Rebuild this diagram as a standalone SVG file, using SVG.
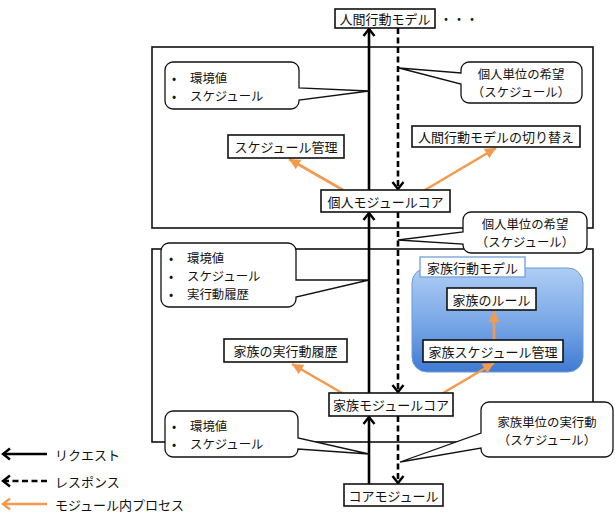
<svg xmlns="http://www.w3.org/2000/svg" width="615" height="512" viewBox="0 0 615 512">
<defs>
<style>
text{font-family:"Noto Sans CJK JP","Noto Sans",sans-serif;font-size:13px;fill:#111;}
.c{text-anchor:middle;dominant-baseline:central;}
.l{dominant-baseline:central;}
.m{font-size:12.4px;}
.box{fill:#fff;stroke:#111;stroke-width:1.6;}
.frame{fill:none;stroke:#111;stroke-width:1.6;}
.callout{fill:#fff;stroke:#111;stroke-width:1.3;}
.req{fill:none;stroke:#000;stroke-width:2.6;marker-end:url(#chev);}
.res{fill:none;stroke:#000;stroke-width:2.6;stroke-dasharray:6,3.5;marker-end:url(#chev);}
.proc{fill:none;stroke:#f39a4f;stroke-width:2.6;marker-end:url(#tri);}
</style>
<marker id="chev" markerUnits="userSpaceOnUse" markerWidth="12" markerHeight="14" viewBox="-9 -7 12 14" refX="0" refY="0" orient="auto">
<path d="M-7,-5.5 L0,0 L-7,5.5" fill="none" stroke="#000" stroke-width="2.4"/>
</marker>
<marker id="chev2" markerUnits="userSpaceOnUse" markerWidth="12" markerHeight="14" viewBox="-9 -7 12 14" refX="0" refY="0" orient="auto">
<path d="M-7,-5.5 L0,0 L-7,5.5" fill="none" stroke="#f39a4f" stroke-width="2.4"/>
</marker>
<marker id="tri" markerUnits="userSpaceOnUse" markerWidth="14" markerHeight="14" viewBox="-12 -7 14 14" refX="0" refY="0" orient="auto">
<path d="M-11,-5.5 L0,0 L-11,5.5 Z" fill="#f39a4f"/>
</marker>
<linearGradient id="blue" x1="0" y1="0" x2="0" y2="1">
<stop offset="0" stop-color="#aecdf4"/>
<stop offset="0.55" stop-color="#77a6e6"/>
<stop offset="1" stop-color="#3f7bd3"/>
</linearGradient>
</defs>
<rect width="615" height="512" fill="#fff"/>

<g id="personal-frame"><rect class="frame" x="152" y="47" width="441" height="181"/></g>
<g id="family-frame"><rect class="frame" x="152" y="249" width="441" height="193"/></g>

<g id="family-model">
<rect x="412" y="268" width="171" height="104" rx="15" fill="url(#blue)" stroke="#6d9ad6" stroke-width="1"/>
<rect x="420" y="257" width="105" height="20" fill="#fff" stroke="#7aa6dc" stroke-width="1.4"/>
<text class="c" x="472.5" y="267.5">家族行動モデル</text>
</g>

<g id="connectors">
<line class="req" x1="369" y1="484" x2="369" y2="417"/>
<line class="req" x1="369" y1="393" x2="369" y2="213"/>
<line class="req" x1="369" y1="190" x2="369" y2="29"/>
<line class="res" x1="398" y1="28" x2="398" y2="189"/>
<line class="res" x1="398" y1="212" x2="398" y2="392"/>
<line class="res" x1="398" y1="416" x2="398" y2="483"/>
<line class="proc" x1="343" y1="190" x2="289" y2="159"/>
<line class="proc" x1="425" y1="190" x2="496" y2="148"/>
<line class="proc" x1="342" y1="393" x2="292" y2="364"/>
<line class="proc" x1="443" y1="393" x2="494" y2="363"/>
<line class="proc" x1="494" y1="340" x2="494" y2="311"/>
</g>

<g id="top-model"><rect class="box" x="335" y="9" width="100" height="19"/><text class="c" x="385" y="18.5">人間行動モデル</text></g>
<g id="ellipsis"><text class="c" x="459" y="18.5">・・・</text></g>

<g id="callout-personal-input">
<path class="callout" d="M173,62 H291 A8,8 0 0 1 299,70 V88 L369,91 L299,100 V101 A8,8 0 0 1 291,109 H173 A8,8 0 0 1 165,101 V70 A8,8 0 0 1 173,62 Z"/>
<text class="l m"><tspan x="172" y="78">•</tspan><tspan x="190" y="78">環境値</tspan><tspan x="172" y="96">•</tspan><tspan x="190" y="96">スケジュール</tspan></text>
</g>

<g id="callout-personal-wish">
<path class="callout" d="M469,62 H574 A8,8 0 0 1 582,70 V95 A8,8 0 0 1 574,103 H469 A8,8 0 0 1 461,95 V84 L399,68 L461,73 V70 A8,8 0 0 1 469,62 Z"/>
<text class="c m"><tspan x="521" y="74">個人単位の希望</tspan><tspan x="521" y="92">（スケジュール）</tspan></text>
</g>

<g id="schedule-mgmt"><rect class="box" x="228" y="135" width="116" height="23"/><text class="c" x="286" y="146.5">スケジュール管理</text></g>
<g id="model-switch"><rect class="box" x="412" y="126" width="168" height="21"/><text class="c" x="496" y="136.5">人間行動モデルの切り替え</text></g>
<g id="personal-core"><rect class="box" x="321" y="190" width="129" height="22"/><text class="c" x="385.5" y="201">個人モジュールコア</text></g>

<g id="callout-personal-wish2">
<path class="callout" d="M471,212 H579 A8,8 0 0 1 587,220 V245 A8,8 0 0 1 579,253 H471 A8,8 0 0 1 463,245 V244 L398,240 L463,232 V220 A8,8 0 0 1 471,212 Z"/>
<text class="c m"><tspan x="525" y="224">個人単位の希望</tspan><tspan x="525" y="242">（スケジュール）</tspan></text>
</g>

<g id="callout-family-input">
<path class="callout" d="M169,243 H288 A8,8 0 0 1 296,251 V280 L369,280 L296,297 V299 A8,8 0 0 1 288,307 H169 A8,8 0 0 1 161,299 V251 A8,8 0 0 1 169,243 Z"/>
<text class="l m"><tspan x="169" y="258">•</tspan><tspan x="187" y="258">環境値</tspan><tspan x="169" y="276">•</tspan><tspan x="187" y="276">スケジュール</tspan><tspan x="169" y="294">•</tspan><tspan x="187" y="294">実行動履歴</tspan></text>
</g>

<g id="family-history"><rect class="box" x="224" y="339" width="123" height="23"/><text class="c" x="285.5" y="350.5">家族の実行動履歴</text></g>
<g id="family-rule"><rect class="box" x="447" y="288" width="89" height="22"/><text class="c" x="491.5" y="299">家族のルール</text></g>
<g id="family-schedule"><rect class="box" x="423" y="340" width="140" height="22"/><text class="c" x="493" y="351">家族スケジュール管理</text></g>
<g id="family-core"><rect class="box" x="329" y="393" width="124" height="23"/><text class="c" x="391" y="404.5">家族モジュールコア</text></g>

<g id="callout-core-input">
<path class="callout" d="M173,411 H290 A8,8 0 0 1 298,419 V438 L369,454 L298,449 A8,8 0 0 1 290,457 H173 A8,8 0 0 1 165,449 V419 A8,8 0 0 1 173,411 Z"/>
<text class="l m"><tspan x="172" y="426">•</tspan><tspan x="190" y="426">環境値</tspan><tspan x="172" y="444">•</tspan><tspan x="190" y="444">スケジュール</tspan></text>
</g>

<g id="callout-family-action">
<path class="callout" d="M489,402 H605 A8,8 0 0 1 613,410 V449 A8,8 0 0 1 605,457 H489 A8,8 0 0 1 481,449 V448 L400,462 L481,433 V410 A8,8 0 0 1 489,402 Z"/>
<text class="c m"><tspan x="547" y="422">家族単位の実行動</tspan><tspan x="547" y="440">（スケジュール）</tspan></text>
</g>

<g id="core-module"><rect class="box" x="344" y="484" width="99" height="22"/><text class="c" x="393.5" y="495">コアモジュール</text></g>

<g id="legend">
<line x1="47" y1="454" x2="3" y2="454" stroke="#000" stroke-width="2.6" marker-end="url(#chev)"/>
<text class="l" x="55" y="454">リクエスト</text>
<line x1="47" y1="481" x2="3" y2="481" stroke="#000" stroke-width="2.6" stroke-dasharray="6,3.5" marker-end="url(#chev)"/>
<text class="l" x="55" y="481">レスポンス</text>
<line x1="47" y1="504" x2="3" y2="504" stroke="#f39a4f" stroke-width="2.6" marker-end="url(#chev2)"/>
<text class="l" x="55" y="504">モジュール内プロセス</text>
</g>
</svg>
